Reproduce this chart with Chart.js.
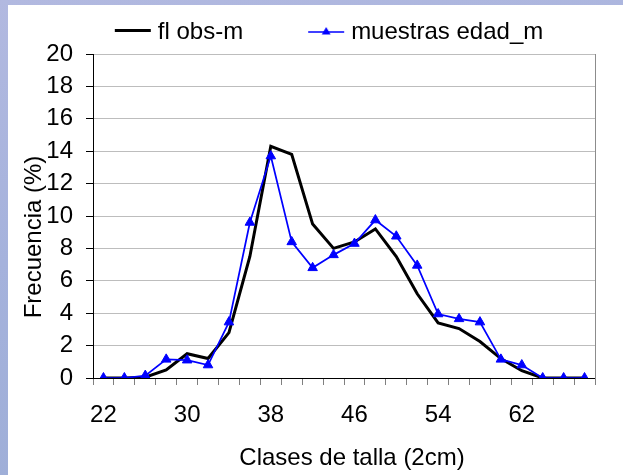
<!DOCTYPE html>
<html>
<head>
<meta charset="utf-8">
<script src="https://cdn.jsdelivr.net/npm/chart.js@4.4.1/dist/chart.umd.min.js"></script>
<style>
    html, body { margin: 0; padding: 0; }
    body {
        width: 623px; height: 475px; overflow: hidden; position: relative;
        background: linear-gradient(170deg, #b2b9e0 0%, #a5b2dc 45%, #9cadd6 100%);
    }
    #marco { position: absolute; left: 8px; top: 5px; width: 615px; height: 470px; background: #fff; }
</style>
</head>
<body>
<div id="marco"><canvas id="grafico" width="615" height="470"></canvas></div>
<script>
// Clases de talla (cada 2 cm)
const tallas = ['22', '24', '26', '28', '30', '32', '34', '36', '38', '40', '42', '44',
                '46', '48', '50', '52', '54', '56', '58', '60', '62', '64', '66', '68'];
// Etiquetas que se muestran en el eje X
const etiquetasX = ['22', '30', '38', '46', '54', '62'];

const flObsM = [0, 0, 0.05, 0.5, 1.5, 1.2, 2.8, 7.5, 14.3, 13.8, 9.5, 8.0,
                8.4, 9.2, 7.5, 5.2, 3.4, 3.05, 2.25, 1.2, 0.45, 0, 0, 0];
const muestrasEdadM = [0, 0, 0.15, 1.15, 1.1, 0.8, 3.45, 9.6, 13.7, 8.4, 6.8, 7.6,
                       8.3, 9.75, 8.75, 6.95, 3.95, 3.65, 3.45, 1.15, 0.8, 0, 0, 0];

const fuente = '"Liberation Sans", Arial, sans-serif';
Chart.defaults.font.family = fuente;
Chart.defaults.font.size = 24;
Chart.defaults.color = '#000';

// Muestra de la leyenda: linea (y triangulo) dibujada en un canvas pequeño
function muestraLeyenda(color, grosor, y, conTriangulo) {
    const c = document.createElement('canvas');
    c.width = 100;
    c.height = 16;
    const g = c.getContext('2d');
    g.strokeStyle = color;
    g.lineWidth = grosor;
    g.beginPath();
    g.moveTo(62, y);
    g.lineTo(98, y);
    g.stroke();
    if (conTriangulo) {
        g.fillStyle = color;
        g.beginPath();
        g.moveTo(80, y - 5);
        g.lineTo(84.4, y + 2.5);
        g.lineTo(75.6, y + 2.5);
        g.closePath();
        g.fill();
    }
    return c;
}
const muestraNegra = muestraLeyenda('#000', 3, 6.5, false);
const muestraAzul = muestraLeyenda('#0000ff', 1.5, 8, true);

// Titulos de los ejes
const titulosEjes = {
    id: 'titulosEjes',
    afterDraw(chart) {
        const { ctx, chartArea } = chart;
        ctx.save();
        ctx.font = '24px ' + fuente;
        ctx.fillStyle = '#000';
        ctx.textAlign = 'center';
        ctx.textBaseline = 'middle';
        ctx.fillText('Clases de talla (2cm)', (chartArea.left + chartArea.right) / 2 + 8, chartArea.bottom + 80);
        ctx.translate(26, (chartArea.top + chartArea.bottom) / 2 + 21);
        ctx.rotate(-Math.PI / 2);
        ctx.fillText('Frecuencia (%)', 0, 0);
        ctx.restore();
    }
};

const ctx = document.getElementById('grafico').getContext('2d');
new Chart(ctx, {
    type: 'line',
    data: {
        labels: tallas,
        datasets: [{
            label: 'fl obs-m',
            data: flObsM,
            borderColor: '#000',
            backgroundColor: '#000',
            borderWidth: 3,
            pointRadius: 0,
            tension: 0,
            order: 1
        }, {
            label: 'muestras edad_m',
            data: muestrasEdadM,
            borderColor: '#0000ff',
            backgroundColor: '#0000ff',
            borderWidth: 1.75,
            pointStyle: 'triangle',
            pointRadius: 5.5,
            pointBorderWidth: 1,
            pointBackgroundColor: '#0000ff',
            pointBorderColor: '#0000ff',
            tension: 0,
            order: 0
        }]
    },
    options: {
        responsive: false,
        animation: false,
        layout: { padding: { top: 5, right: 28, left: 0, bottom: 0 } },
        plugins: {
            tooltip: { enabled: false },
            legend: {
                position: 'top',
                labels: {
                    usePointStyle: true,
                    pointStyleWidth: 86,
                    padding: 10,
                    font: { size: 24 },
                    color: '#000',
                    generateLabels: (chart) => [
                        { text: chart.data.datasets[0].label, pointStyle: muestraNegra, datasetIndex: 0,
                          fillStyle: '#000', strokeStyle: '#000', lineWidth: 0, hidden: false },
                        { text: chart.data.datasets[1].label, pointStyle: muestraAzul, datasetIndex: 1,
                          fillStyle: '#0000ff', strokeStyle: '#0000ff', lineWidth: 0, hidden: false }
                    ]
                }
            }
        },
        scales: {
            x: {
                offset: true,
                grid: {
                    offset: true,
                    drawOnChartArea: false,
                    tickLength: 7,
                    color: '#808080'
                },
                border: { color: '#000', width: 1 },
                ticks: {
                    autoSkip: false,
                    maxRotation: 0,
                    padding: 16,
                    callback: function (value) {
                        const t = this.getLabelForValue(value);
                        return etiquetasX.includes(t) ? t : '';
                    }
                },
                afterFit: (scale) => { scale.height = 97; }
            },
            y: {
                min: 0,
                max: 20,
                ticks: { stepSize: 2, padding: 13 },
                grid: {
                    tickLength: 7,
                    tickColor: '#000',
                    color: (c) => c.tick && c.tick.value === 0 ? 'rgba(0,0,0,0)' : '#bdbdbd'
                },
                border: { color: '#000', width: 1 },
                afterFit: (scale) => { scale.width = 85; }
            },
            y2: {
                position: 'right',
                min: 0,
                max: 20,
                grid: { display: false },
                ticks: { display: false },
                border: { color: '#8c8c8c', width: 1 },
                afterFit: (scale) => { scale.width = 0; }
            }
        }
    },
    plugins: [titulosEjes]
});
</script>
</body>
</html>
